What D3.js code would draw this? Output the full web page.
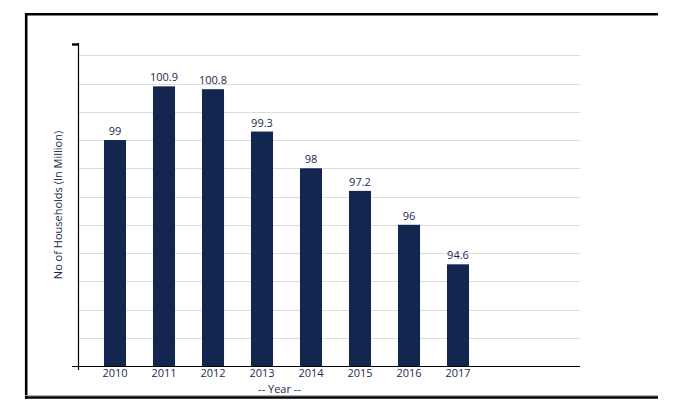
<!DOCTYPE html>
<html>
<head>
<meta charset="utf-8">
<script src="https://cdn.jsdelivr.net/npm/d3@7"></script>
<style>
  html, body { margin: 0; padding: 0; background: #fff; }
  svg { display: block; }
  text { font-family: "Open Sans", Lato, sans-serif; fill: #1b2a4e; }
</style>
</head>
<body>
<svg id="chart" width="683" height="407"></svg>
<script>
const years = ["2010", "2011", "2012", "2013", "2014", "2015", "2016", "2017"];
const households = [99, 100.9, 100.8, 99.3, 98, 97.2, 96, 94.6];
const valueLabels = ["99", "100.9", "100.8", "99.3", "98", "97.2", "96", "94.6"];
const gridValues = [92, 93, 94, 95, 96, 97, 98, 99, 100, 101, 102];
const yDomain = [91, 102.4];
const xTitle = "-- Year --";
const yTitle = "No of Households (In Million)";

const FONT = "'Open Sans', Lato, sans-serif";
const svg = d3.select("#chart");

// frame
const frame = svg.append("g");
frame.append("line").attr("x1", 25).attr("x2", 658).attr("y1", 14.2).attr("y2", 14.2)
  .attr("stroke", "#000").attr("stroke-width", 2.6);
frame.append("line").attr("x1", 26.2).attr("x2", 26.2).attr("y1", 13).attr("y2", 398.5)
  .attr("stroke", "#000").attr("stroke-width", 2.6);
frame.append("line").attr("x1", 25).attr("x2", 658).attr("y1", 395.6).attr("y2", 395.6)
  .attr("stroke", "#aaa").attr("stroke-width", 1);
frame.append("line").attr("x1", 25).attr("x2", 658).attr("y1", 397.5).attr("y2", 397.5)
  .attr("stroke", "#000").attr("stroke-width", 2.4);

const plotLeft = 78, plotRight = 580, plotTop = 44, plotBottom = 366;

const y = d3.scaleLinear().domain(yDomain).range([plotBottom, plotTop]);
const x = d3.scaleBand().domain(years).range([90.5, 482.5])
  .paddingInner(0.55).paddingOuter(0.275);

// gridlines
svg.append("g").selectAll("line").data(gridValues).join("line")
  .attr("x1", plotLeft).attr("x2", plotRight)
  .attr("y1", d => Math.round(y(d)) + 0.5).attr("y2", d => Math.round(y(d)) + 0.5)
  .attr("stroke", "#dcdcdc").attr("stroke-width", 1);

// bars
svg.append("g").selectAll("rect").data(households).join("rect")
  .attr("x", (d, i) => x(years[i]))
  .attr("width", x.bandwidth())
  .attr("y", d => y(d))
  .attr("height", d => plotBottom - y(d))
  .attr("fill", "#12264f");

// value labels
svg.append("g").selectAll("text").data(households).join("text")
  .attr("x", (d, i) => x(years[i]) + x.bandwidth() / 2)
  .attr("y", d => y(d) - 5)
  .attr("text-anchor", "middle")
  .attr("font-size", 11)
  .text((d, i) => valueLabels[i]);

// x axis
const xAxis = d3.axisBottom(x).tickSize(0).tickPadding(3);
const gx = svg.append("g").attr("transform", `translate(0,${plotBottom})`).call(xAxis);
gx.select(".domain").remove();
gx.selectAll("text").attr("font-size", 11).style("font-family", FONT).attr("fill", "#1b2a4e");
svg.append("line").attr("x1", 72).attr("x2", plotRight).attr("y1", plotBottom + 0.5).attr("y2", plotBottom + 0.5)
  .attr("stroke", "#000").attr("stroke-width", 1.2);

// y axis
const yAxis = d3.axisLeft(y).tickValues([yDomain[1]]).tickSize(6).tickFormat("");
const gy = svg.append("g").attr("transform", `translate(${plotLeft},0)`).call(yAxis);
gy.select(".domain").remove();
gy.selectAll(".tick line").attr("stroke", "#000").attr("stroke-width", 2.4);
svg.append("line").attr("x1", plotLeft + 0.5).attr("x2", plotLeft + 0.5).attr("y1", plotTop - 1).attr("y2", plotBottom + 4)
  .attr("stroke", "#000").attr("stroke-width", 1.2);

// titles
svg.append("text").attr("x", 279.5).attr("y", 393)
  .attr("text-anchor", "middle").attr("font-size", 11).text(xTitle);
svg.append("text")
  .attr("transform", `translate(62,${(plotTop + plotBottom) / 2}) rotate(-90)`)
  .attr("text-anchor", "middle").attr("font-size", 11).text(yTitle);
</script>
</body>
</html>
